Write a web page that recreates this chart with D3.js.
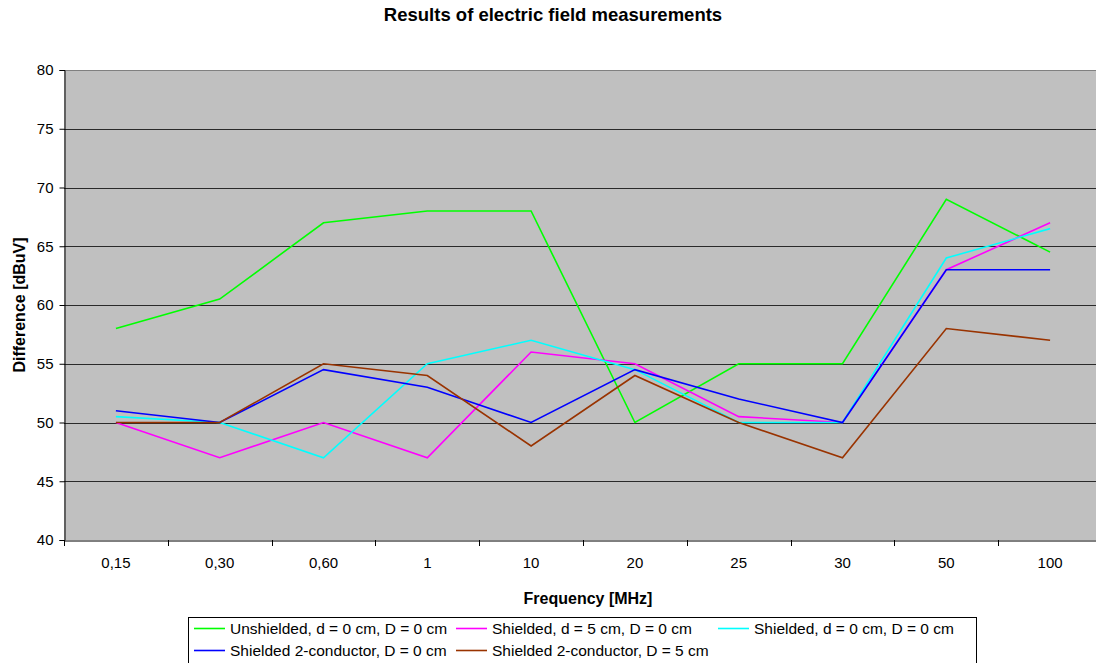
<!DOCTYPE html>
<html><head><meta charset="utf-8">
<script src="https://cdn.jsdelivr.net/npm/d3@7"></script>
<style>body{margin:0;background:#fff;overflow:hidden}svg{display:block;font-family:"Liberation Sans",Arial,sans-serif}</style>
</head><body><svg id="c" width="1096" height="663"></svg>
<script>
const categories = ["0,15","0,30","0,60","1","10","20","25","30","50","100"];
const yTicks = [40,45,50,55,60,65,70,75,80];
const unshielded = [58,60.5,67,68,68,50,55,55,69,64.5];
const shielded5 = [50,47,50,47,56,55,50.5,50,63,67];
const shielded0 = [50.5,50,47,55,57,54.5,50,50,64,66.5];
const twoCond0 = [51,50,54.5,53,50,54.5,52,50,63,63];
const twoCond5 = [50,50,55,54,48,54,50,47,58,57];
const seriesNames = ["Unshielded, d = 0 cm, D = 0 cm","Shielded, d = 5 cm, D = 0 cm","Shielded, d = 0 cm, D = 0 cm","Shielded 2-conductor, D = 0 cm","Shielded 2-conductor, D = 5 cm"];
const seriesColors = ["#00ff00","#ff00ff","#00ffff","#0000ff","#993300"];
const seriesValues = [unshielded, shielded5, shielded0, twoCond0, twoCond5];

const svg = d3.select("#c");
const L=64, R=1102, T=70, B=540;
const x = d3.scaleBand().domain(categories).range([L,R]);
const y = d3.scaleLinear().domain([40,80]).range([B,T]);

svg.append("rect").attr("x",L).attr("y",T).attr("width",R-L).attr("height",B-T).attr("fill","#c0c0c0");
svg.append("line").attr("x1",L).attr("x2",R).attr("y1",T+0.5).attr("y2",T+0.5).attr("stroke","#808080");
svg.append("g").selectAll("line").data(yTicks.filter(d=>d>40&&d<80)).join("line")
  .attr("x1",L).attr("x2",R).attr("y1",d=>Math.round(y(d))+0.5).attr("y2",d=>Math.round(y(d))+0.5)
  .attr("stroke","#2a2a2a").attr("stroke-width",1);

// y axis
const ya = svg.append("g").attr("transform",`translate(${L+0.5},0)`)
  .call(d3.axisLeft(y).tickValues(yTicks).tickSize(5).tickPadding(6).tickFormat(d3.format("d")));
ya.select(".domain").attr("stroke","#000");
ya.selectAll("text").attr("font-size",15).attr("fill","#000").attr("font-family","Liberation Sans, Arial");

// x axis
const xa = svg.append("g").attr("transform",`translate(0,${B+0.5})`)
  .call(d3.axisBottom(x).tickSize(0).tickPadding(17));
xa.select(".domain").attr("stroke","#000");
xa.selectAll("text").attr("font-size",15).attr("fill","#000").attr("font-family","Liberation Sans, Arial");
svg.append("g").selectAll("line").data(categories).join("line")
  .attr("x1",d=>Math.round(x(d))+0.5).attr("x2",d=>Math.round(x(d))+0.5)
  .attr("y1",B).attr("y2",B+6).attr("stroke","#000");

// lines
const line = d3.line().x((d,i)=>x(categories[i])+x.bandwidth()/2).y(d=>y(d));
seriesValues.forEach((vals,k)=>{
  svg.append("path").datum(vals).attr("d",line).attr("fill","none")
    .attr("stroke",seriesColors[k]).attr("stroke-width",1.6).attr("stroke-linejoin","miter");
});

// titles
svg.append("text").attr("x",553).attr("y",21).attr("text-anchor","middle").attr("font-size",18.5)
  .attr("font-weight","bold").text("Results of electric field measurements");
svg.append("text").attr("x",588).attr("y",604).attr("text-anchor","middle").attr("font-size",16)
  .attr("font-weight","bold").text("Frequency [MHz]");
svg.append("text").attr("transform",`translate(25,${(T+B)/2}) rotate(-90)`).attr("text-anchor","middle")
  .attr("font-size",16).attr("font-weight","bold").text("Difference [dBuV]");

// legend
svg.append("rect").attr("x",188.5).attr("y",617.5).attr("width",788).attr("height",50)
  .attr("fill","#fff").attr("stroke","#000");
const legPos = [[194,634],[456,634],[718,634],[194,656],[456,656]];
seriesNames.forEach((n,k)=>{
  const [lx,ly]=legPos[k];
  svg.append("line").attr("x1",lx).attr("x2",lx+31).attr("y1",ly-5.5).attr("y2",ly-5.5)
    .attr("stroke",seriesColors[k]).attr("stroke-width",1.6);
  svg.append("text").attr("x",lx+36).attr("y",ly).attr("font-size",15.5).text(n);
});
</script></body></html>
